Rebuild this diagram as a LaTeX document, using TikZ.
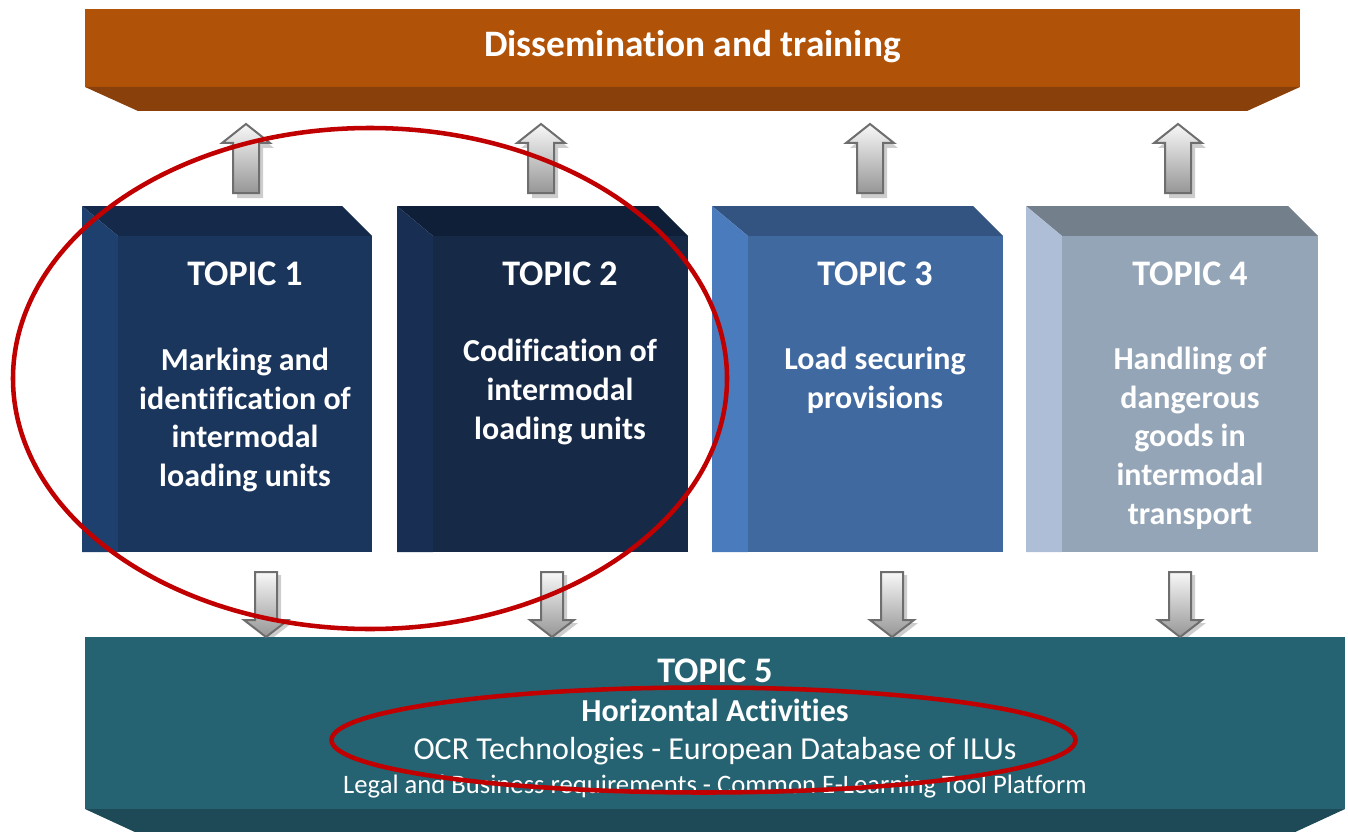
\documentclass[tikz,border=0pt]{standalone}
\usepackage{fontspec}
\setmainfont{Carlito}[Ligatures=NoCommon]
\usepackage{tikz}

\begin{document}
\begin{tikzpicture}[x=0.75pt,y=0.75pt,yscale=-1,xscale=1,
  blockarrow/.style={draw={rgb,255:red,110;green,110;blue,110}, line width=1.5, line join=miter,
    top color={rgb,255:red,248;green,248;blue,248}, bottom color={rgb,255:red,150;green,150;blue,150}},
  arrowshade/.style={fill={rgb,255:red,205;green,205;blue,205}},
  ring/.style={draw={rgb,255:red,192;green,0;blue,0}, line width=3.4},
  whitetext/.style={text=white, inner sep=0.75pt, align=center},
  topichead/.style={whitetext, font=\bfseries\fontsize{27}{32}\selectfont},
  topicbody/.style={whitetext, font=\bfseries\fontsize{24}{29}\selectfont}]
\useasboundingbox (0,0) rectangle (1348,831);
\clip (0,0) rectangle (1348,831);

%Shape: Rectangle -- dissemination bar
\fill [color={rgb,255:red,176;green,83;blue,8}] (85,9) rectangle (1300,87);
\fill [color={rgb,255:red,138;green,64;blue,10}] (85,87) -- (1300,87) -- (1247,111) -- (138,111) -- cycle;

%Shape: Box -- topic 1
\fill [color={rgb,255:red,21;green,42;blue,74}] (82,206) -- (342,206) -- (372,236) -- (118,236) -- cycle;
\fill [color={rgb,255:red,30;green,64;blue,110}] (82,206) -- (118,236) -- (118,552) -- (82,552) -- cycle;
\fill [color={rgb,255:red,27;green,54;blue,93}] (118,236) rectangle (372,552);
%Shape: Box -- topic 2
\fill [color={rgb,255:red,16;green,31;blue,56}] (397,206) -- (658,206) -- (688,236) -- (433,236) -- cycle;
\fill [color={rgb,255:red,24;green,46;blue,82}] (397,206) -- (433,236) -- (433,552) -- (397,552) -- cycle;
\fill [color={rgb,255:red,22;green,41;blue,71}] (433,236) rectangle (688,552);
%Shape: Box -- topic 3
\fill [color={rgb,255:red,51;green,84;blue,128}] (712,206) -- (973,206) -- (1003,236) -- (748,236) -- cycle;
\fill [color={rgb,255:red,74;green,124;blue,189}] (712,206) -- (748,236) -- (748,552) -- (712,552) -- cycle;
\fill [color={rgb,255:red,64;green,105;blue,160}] (748,236) rectangle (1003,552);
%Shape: Box -- topic 4
\fill [color={rgb,255:red,116;green,127;blue,140}] (1026,206) -- (1288,206) -- (1318,236) -- (1062,236) -- cycle;
\fill [color={rgb,255:red,173;green,190;blue,214}] (1026,206) -- (1062,236) -- (1062,552) -- (1026,552) -- cycle;
\fill [color={rgb,255:red,149;green,165;blue,184}] (1062,236) rectangle (1318,552);

%Up Arrows -- shadows first
\fill [arrowshade] (250,129) -- (274,148) -- (263,148) -- (263,198) -- (237,198) -- (237,148) -- (226,148) -- cycle;
\fill [arrowshade] (545,129) -- (569,148) -- (558,148) -- (558,198) -- (532,198) -- (532,148) -- (521,148) -- cycle;
\fill [arrowshade] (874,129) -- (898,148) -- (887,148) -- (887,198) -- (861,198) -- (861,148) -- (850,148) -- cycle;
\fill [arrowshade] (1182,129) -- (1206,148) -- (1195,148) -- (1195,198) -- (1169,198) -- (1169,148) -- (1158,148) -- cycle;
\draw [blockarrow] (246,124) -- (270,143) -- (259,143) -- (259,193) -- (233,193) -- (233,143) -- (222,143) -- cycle;
\draw [blockarrow] (541,124) -- (565,143) -- (554,143) -- (554,193) -- (528,193) -- (528,143) -- (517,143) -- cycle;
\draw [blockarrow] (870,124) -- (894,143) -- (883,143) -- (883,193) -- (857,193) -- (857,143) -- (846,143) -- cycle;
\draw [blockarrow] (1178,124) -- (1202,143) -- (1191,143) -- (1191,193) -- (1165,193) -- (1165,143) -- (1154,143) -- cycle;

%Down Arrows -- shadows first
\fill [arrowshade] (259,575) -- (281,575) -- (281,623) -- (292,623) -- (270,640) -- (248,623) -- (259,623) -- cycle;
\fill [arrowshade] (545,575) -- (567,575) -- (567,623) -- (578,623) -- (556,640) -- (534,623) -- (545,623) -- cycle;
\fill [arrowshade] (885,575) -- (907,575) -- (907,623) -- (918,623) -- (896,640) -- (874,623) -- (885,623) -- cycle;
\fill [arrowshade] (1173,575) -- (1195,575) -- (1195,623) -- (1206,623) -- (1184,640) -- (1162,623) -- (1173,623) -- cycle;

%Shape: Rectangle -- horizontal activities bar
\fill [color={rgb,255:red,37;green,99;blue,115}] (85,637) rectangle (1345,809);
\fill [color={rgb,255:red,30;green,74;blue,88}] (85,809) -- (1345,809) -- (1293,833) -- (137,833) -- cycle;

\draw [blockarrow] (255,572) -- (277,572) -- (277,620) -- (288,620) -- (266,637) -- (244,620) -- (255,620) -- cycle;
\draw [blockarrow] (541,572) -- (563,572) -- (563,620) -- (574,620) -- (552,637) -- (530,620) -- (541,620) -- cycle;
\draw [blockarrow] (881,572) -- (903,572) -- (903,620) -- (914,620) -- (892,637) -- (870,620) -- (881,620) -- cycle;
\draw [blockarrow] (1169,572) -- (1191,572) -- (1191,620) -- (1202,620) -- (1180,637) -- (1158,620) -- (1169,620) -- cycle;

% Text Node
\draw (692.5,57) node [whitetext, anchor=base, font=\bfseries\fontsize{28}{34}\selectfont] (dis) {Dissemination and training};
% Text Node
\draw (245,285) node [topichead, anchor=base] (head1) {TOPIC 1};
\draw (560,285) node [topichead, anchor=base] (head2) {TOPIC 2};
\draw (875,285) node [topichead, anchor=base] (head3) {TOPIC 3};
\draw (1190,285) node [topichead, anchor=base] (head4) {TOPIC 4};
% Text Node
\draw (245,420) node [topicbody] (body1) {Marking and\\identification of\\intermodal\\loading units};
\draw (560,392) node [topicbody] (body2) {Codification of\\intermodal\\loading units};
\draw (875,380) node [topicbody] (body3) {Load securing\\provisions};
\draw (1190,438) node [topicbody] (body4) {Handling of\\dangerous\\goods in\\intermodal\\transport};
% Text Node
\draw (715,682) node [topichead, anchor=base] (head5) {TOPIC 5};
\draw (715,721) node [whitetext, anchor=base, font=\bfseries\fontsize{24}{28}\selectfont] (horiz) {Horizontal Activities};
\draw (715,759) node [whitetext, anchor=base, font=\fontsize{24}{28}\selectfont] (ocr) {OCR Technologies - European Database of ILUs};
\draw (715,793) node [whitetext, anchor=base, font=\fontsize{20}{24}\selectfont] (legal) {Legal and Business requirements - Common E-Learning Tool Platform};

%Shape: Ellipse -- highlight rings
\draw [ring] (370,378.5) ellipse [x radius=357, y radius=250.5];
\draw [ring] (703.5,740) ellipse [x radius=372, y radius=52.5];
\end{tikzpicture}
\end{document}
